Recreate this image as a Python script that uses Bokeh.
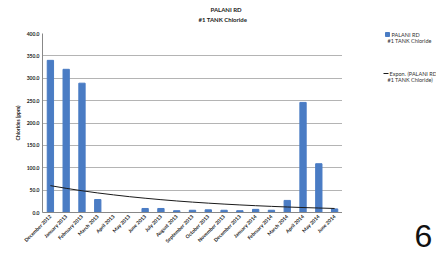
import math
from bokeh.plotting import figure
from bokeh.layouts import row, column
from bokeh.models import FactorRange, Range1d, FixedTicker, Title, NumeralTickFormatter
from bokeh.core.properties import value
from bokeh.embed import file_html
from bokeh.resources import INLINE

months = ["December 2012", "January 2013", "February 2013", "March 2013", "April 2013",
          "May 2013", "June 2013", "July 2013", "August 2013", "September 2013",
          "October 2013", "November 2013", "December 2013", "January 2014",
          "February 2014", "March 2014", "April 2014", "May 2014", "June 2014"]
chloride = [340, 320, 289, 29, 0, 0, 9, 9, 4, 5, 6, 5, 4, 7, 5, 27, 246, 109, 8]
trend = [60, 54, 48.6, 43.7, 39.4, 35.4, 31.9, 28.7, 25.8, 23.2, 20.9, 18.8, 16.9,
         15.2, 13.7, 12.3, 11.1, 10.0, 9.0]
y_ticks = [0, 50, 100, 150, 200, 250, 300, 350, 400]
legend_labels = ["PALANI RD", "#1 TANK Chloride", "Expon. (PALANI RD", "#1 TANK Chloride)"]

FONT = "Lato"
BLUE = "#4a7cc4"
H = 254
WM, WS = 342, 94

p = figure(width=WM, height=H, output_backend="svg", toolbar_location=None,
           x_range=FactorRange(factors=months, range_padding=0),
           y_range=Range1d(0, 400),
           min_border_left=42, min_border_right=0, min_border_top=33, min_border_bottom=42)
p.outline_line_color = None
p.background_fill_color = "white"
p.border_fill_color = "white"

p.vbar(x=months, top=chloride, width=0.4, color=BLUE)
p.line(x=months, y=trend, color="#1a1a1a", line_width=1)

p.yaxis.ticker = FixedTicker(ticks=y_ticks)
p.yaxis.formatter = NumeralTickFormatter(format="0.0")
p.yaxis.axis_label = "Chlorides (ppm)"
p.yaxis.axis_label_text_font = FONT
p.yaxis.axis_label_text_font_size = "5px"
p.yaxis.axis_label_text_font_style = "bold"
p.yaxis.axis_label_text_color = "#222222"
p.yaxis.axis_label_standoff = 3
p.yaxis.axis_line_color = "#888888"

for ax in (p.xaxis, p.yaxis):
    ax.major_label_text_font = FONT
    ax.major_label_text_font_size = "5px"
    ax.major_label_text_color = "#222222"
    ax.major_label_text_font_style = "bold"
    ax.major_tick_line_color = None
    ax.minor_tick_line_color = None
    ax.major_tick_out = 0
    ax.major_tick_in = 0
    ax.minor_tick_out = 0
    ax.major_label_standoff = 3

p.xaxis.major_label_orientation = math.pi / 4
p.xaxis.axis_line_color = "#888888"

p.xgrid.grid_line_color = None
p.ygrid.grid_line_color = "#b4b4b4"
p.ygrid.grid_line_width = 1

# spacer between the frame and the two title lines
p.add_layout(Title(text=" ", text_font=FONT, text_font_size="2px", standoff=5), "above")
p.add_layout(Title(text="#1 TANK Chloride", align="left", offset=156, text_font=FONT,
                   text_font_size="6px", text_font_style="bold", text_color="#222222",
                   standoff=3), "above")
p.add_layout(Title(text="PALANI RD", align="left", offset=168, text_font=FONT,
                   text_font_size="6px", text_font_style="bold", text_color="#222222",
                   standoff=0), "above")

# side panel: legend and page number, positioned in pixel space
s = figure(width=WS, height=H, output_backend="svg", toolbar_location=None,
           x_range=Range1d(0, WS), y_range=Range1d(H, 0),
           min_border=0, x_axis_type=None, y_axis_type=None)
s.outline_line_color = None
s.grid.grid_line_color = None
s.border_fill_color = "white"
s.background_fill_color = "white"

s.text(x=[49, 45, 47, 45], y=[34, 40, 73, 79], text=legend_labels, text_font=value(FONT),
       text_font_size="5.5px", text_baseline="middle", text_color="#333333")
s.rect(x=[45], y=[34], width=[4], height=[4], color=BLUE)
s.line(x=[41, 46], y=[73, 73], color="#1a1a1a", line_width=1)
s.text(x=[72], y=[246], text=["6"], text_font=value("Liberation Sans"),
       text_font_size="32px", text_baseline="bottom", text_color="#111111")

open("out.html", "w").write(file_html(row(p, column(s)), INLINE))
